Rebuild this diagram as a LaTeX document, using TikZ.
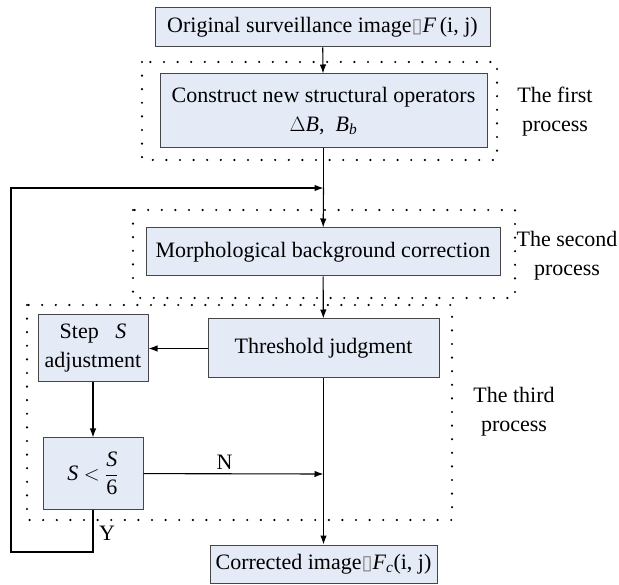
\documentclass[tikz,border=0pt]{standalone}
\usepackage{xcolor}
\usepackage{tikz}
\usepackage{amsmath}
\usepackage{fontspec}
\setmainfont{Liberation Serif}
\newfontfamily\symfont{DejaVu Sans}
\usetikzlibrary{positioning,calc,arrows.meta}
\definecolor{flowFill}{RGB}{228, 235, 247}
\definecolor{flowLine}{RGB}{70, 70, 70}
\newcommand{\tofu}{{\symfont\fontsize{20}{20}\selectfont\textcolor{gray}{▯}}}

\tikzset{
  procbox/.style={draw=flowLine, line width=1pt, fill=flowFill, align=center,
    inner sep=2pt, font=\fontsize{22}{29}\selectfont},
  dotframe/.style={line width=2.4pt, line cap=round, dash pattern=on 0pt off 13.6pt},
  flow/.style={line width=1.1pt, -{Latex[length=9pt,width=6.5pt]}},
  plain/.style={line width=1.1pt},
  sidetext/.style={align=center, font=\fontsize{22}{29}\selectfont}
}

\begin{document}
\begin{tikzpicture}[x=1pt,y=-1pt]
        \useasboundingbox (0,0) rectangle (619,585);
        % Dotted frames of the three processes
        \draw[dotframe] (142,62) rectangle (497,160);
        \draw[dotframe] (133,210) rectangle (515,298);
        \draw[dotframe] (27,305) rectangle (452,520);
        % Boxes of the flow
        \node[procbox, minimum width=335pt, minimum height=39pt] (orig) at (322.5,27.5)
          {Original surveillance image\tofu\textit{F}\,(i, j)};
        \node[procbox, minimum width=327pt, minimum height=74pt] (constr) at (323.5,111)
          {Construct new structural operators\\$\Delta$\textit{B},\ \ \textit{B}\textsubscript{\itshape b}};
        \node[procbox, minimum width=354pt, minimum height=48pt] (morph) at (323,252)
          {Morphological background correction};
        \node[procbox, minimum width=231pt, minimum height=59pt] (thresh) at (323.5,348.5)
          {Threshold judgment};
        \node[procbox, minimum width=110pt, minimum height=67pt] (stepS) at (93,348.5)
          {Step\ \ \ \textit{S}\\adjustment};
        \node[procbox, minimum width=100pt, minimum height=71pt] (cond) at (93,473.5)
          {\textit{S}\ $<$\ $\dfrac{\text{\textit{S}}}{\text{6}}$};
        \node[procbox, minimum width=227pt, minimum height=38pt] (corr) at (323.5,564)
          {Corrected image\tofu\textit{F}\textsubscript{\itshape c}(i, j)};
        % Side labels
        \node[sidetext] (firstlbl) at (555,112) {The first\\process};
        \node[sidetext] (secondlbl) at (567,256) {The second\\process};
        \node[sidetext] (thirdlbl) at (514,412) {The third\\process};
        % Junction points
        \coordinate (loopin) at (constr.south |- 0,188);
        \coordinate (merge) at (thresh.south |- 0,474);
        \coordinate (loopbot) at (cond.south |- 0,552);
        \coordinate (loopleft) at (11,552);
        \coordinate (looptop) at (11,188);
        % Connectors
        \draw[flow] (orig) -- (constr);
        \draw[plain] (constr) -- (loopin);
        \draw[flow] (loopin) -- (morph);
        \draw[flow] (morph) -- (thresh);
        \draw[flow] (thresh) -- (corr);
        \draw[flow] (thresh) -- (stepS);
        \draw[flow] (stepS) -- (cond);
        \draw[flow] (cond) -- node[above, pos=0.45, font=\fontsize{22}{29}\selectfont] (nlbl) {N} (merge);
        \draw[flow] (cond) -- (loopbot) -- (loopleft) -- (looptop) -- (loopin);
        \node[font=\fontsize{22}{29}\selectfont] (ylbl) at (107,533) {Y};
    \end{tikzpicture}
\end{document}
